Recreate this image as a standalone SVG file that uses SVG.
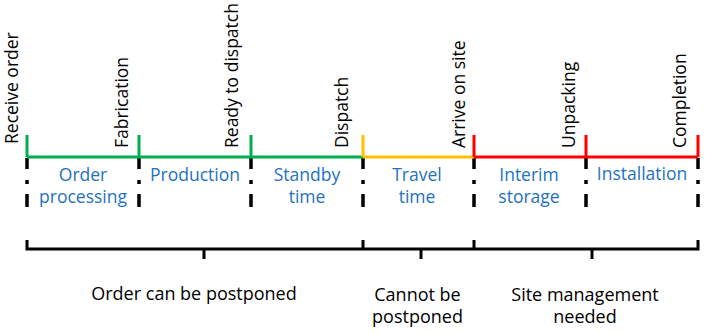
<svg xmlns="http://www.w3.org/2000/svg" width="706" height="334" viewBox="0 0 706 334">
<style>
text{font-family:"Open Sans","Noto Sans",sans-serif;}
.ms{font-size:17.5px;fill:#000;}
.ph{font-size:17.5px;fill:#2371C0;text-anchor:middle;}
.br{font-size:18px;fill:#000;text-anchor:middle;}
.dash{stroke:#000;stroke-width:3.5;fill:none;stroke-dasharray:11 11 4 10 13;}
.g{stroke:#00B050;stroke-width:3;fill:none;}
.y{stroke:#FFC000;stroke-width:3;fill:none;}
.r{stroke:#FF0000;stroke-width:3;fill:none;}
.bk{stroke:#000;stroke-width:3;fill:none;}
</style>
<rect width="706" height="334" fill="#fff"/>
<g id="connectors">
  <g id="dividers">
    <path class="dash" d="M27 158V207"/>
    <path class="dash" d="M139 158V207"/>
    <path class="dash" d="M251 158V207"/>
    <path class="dash" d="M363 158V207"/>
    <path class="dash" d="M474 158V207"/>
    <path class="dash" d="M586 158V207"/>
    <path class="dash" d="M698 158V207"/>
  </g>
  <g id="timeline">
    <path class="g" d="M27 157H363M27 135V157M139 135V157M251 135V157"/>
    <path class="y" d="M363 157H474M363 135V157"/>
    <path class="r" d="M474 157H698M474 135V157M586 135V157M698 135V157"/>
  </g>
  <g id="brackets">
    <path class="bk" d="M25.5 249H699.5M27 240V250M363 240V250M474 240V250M698 240V250M204 248V259M421 248V259M592 248V259"/>
  </g>
</g>
<g id="milestones">
  <g id="m-receive"><text class="ms" transform="translate(18,144) rotate(-90)">Receive order</text></g>
  <g id="m-fabrication"><text class="ms" transform="translate(128,148) rotate(-90)">Fabrication</text></g>
  <g id="m-ready"><text class="ms" transform="translate(238,148) rotate(-90)">Ready to dispatch</text></g>
  <g id="m-dispatch"><text class="ms" transform="translate(348,148) rotate(-90)">Dispatch</text></g>
  <g id="m-arrive"><text class="ms" transform="translate(465,148) rotate(-90)">Arrive on site</text></g>
  <g id="m-unpacking"><text class="ms" transform="translate(574.5,148) rotate(-90)">Unpacking</text></g>
  <g id="m-completion"><text class="ms" transform="translate(686,148) rotate(-90)">Completion</text></g>
</g>
<g id="phases">
  <g id="p-order"><text class="ph" x="83" y="181">Order</text><text class="ph" x="83" y="203">processing</text></g>
  <g id="p-production"><text class="ph" x="195" y="181">Production</text></g>
  <g id="p-standby"><text class="ph" x="307" y="181">Standby</text><text class="ph" x="307" y="203">time</text></g>
  <g id="p-travel"><text class="ph" x="417" y="181">Travel</text><text class="ph" x="417" y="203">time</text></g>
  <g id="p-interim"><text class="ph" x="529" y="181">Interim</text><text class="ph" x="529" y="203">storage</text></g>
  <g id="p-installation"><text class="ph" x="642" y="180">Installation</text></g>
</g>
<g id="groups">
  <g id="g-postponed"><text class="br" x="194" y="300">Order can be postponed</text></g>
  <g id="g-cannot"><text class="br" x="417.5" y="301">Cannot be</text><text class="br" x="417.5" y="323">postponed</text></g>
  <g id="g-site"><text class="br" x="585" y="301">Site management</text><text class="br" x="585" y="323">needed</text></g>
</g>
</svg>
